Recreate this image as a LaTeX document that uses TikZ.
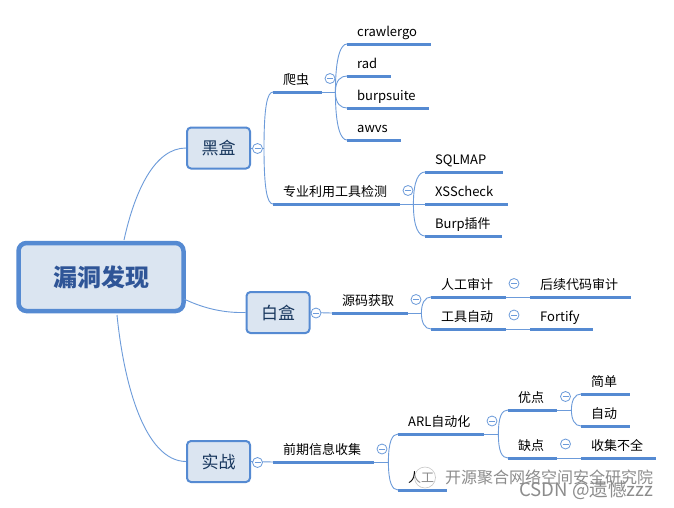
\documentclass[tikz,border=0pt]{standalone}
\usepackage{fontspec}
\setmainfont{Noto Sans CJK SC}
\usetikzlibrary{calc}
\definecolor{mmline}{HTML}{558AD2}
\definecolor{mmthin}{HTML}{6C9BDA}
\definecolor{mmfill}{HTML}{DBE5F1}
\definecolor{mmtext}{HTML}{17365D}
\definecolor{mmroot}{HTML}{2F5597}
\tikzset{
  x=1pt,y=-1pt,
  rootbox/.style={draw=mmline,line width=4.5pt,rounded corners=8pt,fill=mmfill,text=mmroot,
    font=\fontsize{24}{28}\selectfont\bfseries,minimum width=165pt,minimum height=68pt,inner sep=0pt},
  mainbox/.style={draw=mmline,line width=2pt,rounded corners=4pt,fill=mmfill,text=mmtext,
    font=\fontsize{17}{20}\selectfont,minimum width=63pt,minimum height=41pt,inner sep=0pt},
  topic/.style={anchor=south west,inner sep=0pt,minimum height=22pt,text height=10pt,text depth=3pt,
    font=\fontsize{13}{15}\selectfont,align=left},
  bar/.style={draw=mmline,line width=3pt},
  conn/.style={draw=mmthin,line width=0.9pt},
  fold/.style={circle,draw=mmthin,fill=white,line width=0.8pt,minimum size=10pt,inner sep=0pt,
    path picture={\draw[mmthin,line width=0.8pt] ($(path picture bounding box.center)+(-3,0)$) -- ($(path picture bounding box.center)+(3,0)$);}},
  mark1/.style={text=gray!90,inner sep=0pt}
}
% name, left, right, bottom y, text
\newcommand{\tpc}[5]{%
  \pgfmathsetmacro{\tpcw}{#3-#2}%
  \node[topic,text width=\tpcw pt] (#1) at (#2,#4) {\hspace*{10pt}#5};
  \draw[bar] (#1.south west) -- (#1.south east);}
\newcommand{\lowered}[2]{\raisebox{-#1pt}{#2}}
% fan: from coordinate #1, vertical handle #2, to node #3
\newcommand{\fan}[3]{\draw[conn] (#1) .. controls ($(#1)+(0,#2)$) and ($(#3.south west)+(-6,0)$) .. (#3.south west);}
\begin{document}
\begin{tikzpicture}
\useasboundingbox (0,0) rectangle (674,507);
\fill[white] (0,0) rectangle (674,507);

\node[rootbox] (root) at (101,277) {\lowered{2}{漏洞发现}};
\node[mainbox] (black) at (218.5,148) {\lowered{1.5}{黑盒}};
\node[mainbox] (white) at (278,312.5) {\lowered{1.5}{白盒}};
\node[mainbox] (real) at (218.5,461.5) {\lowered{1.5}{实战}};

\coordinate (r1) at (124,240);
\coordinate (r2) at (184,299);
\coordinate (r3) at (117,315);
\draw[conn] (r1) .. controls (135,190) and (155,148) .. (black.west);
\draw[conn] (r2) .. controls (205,309) and (225,313) .. (white.west);
\draw[conn] (r3) .. controls (124,385) and (145,461) .. (real.west);

% black box
\tpc{crawler}{273}{322}{92}{爬虫}
\tpc{tool}{273}{400}{204}{专业利用工具检测}
\tpc{crawlergo}{347}{431}{44}{crawlergo}
\tpc{rad}{347}{391}{76}{rad}
\tpc{burpsuite}{347}{429}{108}{burpsuite}
\tpc{awvs}{347}{401}{140}{awvs}
\tpc{sqlmap}{425}{503}{172}{SQLMAP}
\tpc{xss}{425}{508}{204}{XSScheck}
\tpc{burp}{425}{502}{236}{Burp插件}

\coordinate (bb) at ($(black.east)+(13,0)$);
\draw[conn] (black.east) -- (bb);
\fan{bb}{-40}{crawler}
\fan{bb}{40}{tool}
\coordinate (cb) at ($(crawler.south east)+(13,0)$);
\draw[conn] (crawler.south east) -- (cb);
\fan{cb}{-36}{crawlergo}
\fan{cb}{-12}{rad}
\fan{cb}{12}{burpsuite}
\fan{cb}{36}{awvs}
\coordinate (tb) at ($(tool.south east)+(13,0)$);
\draw[conn] (tool.south east) -- (xss.south west);
\fan{tb}{-24}{sqlmap}
\fan{tb}{24}{burp}

% white box
\tpc{source}{332}{408}{313}{源码获取}
\tpc{manual}{431}{506}{297}{人工审计}
\tpc{auto}{431}{506}{329}{工具自动}
\tpc{later}{530}{631}{297}{后续代码审计}
\tpc{fortify}{530}{593}{329}{Fortify}
\draw[conn] (white.east) -- (source.south west);
\coordinate (sb) at ($(source.south east)+(13,0)$);
\draw[conn] (source.south east) -- (sb);
\fan{sb}{-10}{manual}
\fan{sb}{10}{auto}
\draw[conn] (manual.south east) -- (later.south west);
\draw[conn] (auto.south east) -- (fortify.south west);

% practice
\tpc{info}{273}{374}{462}{前期信息收集}
\tpc{arl}{398}{484}{434}{ARL自动化}
\tpc{human}{398}{447}{490}{人工}
\tpc{good}{508}{557}{410}{优点}
\tpc{bad}{508}{557}{458}{缺点}
\tpc{simple}{581}{630}{394}{简单}
\tpc{autom}{581}{630}{426}{自动}
\tpc{lack}{581}{656}{458}{收集不全}
\draw[conn] (real.east) -- (info.south west);
\coordinate (ib) at ($(info.south east)+(14,0)$);
\draw[conn] (info.south east) -- (ib);
\fan{ib}{-20}{arl}
\fan{ib}{20}{human}
\coordinate (ab) at ($(arl.south east)+(14,0)$);
\draw[conn] (arl.south east) -- (ab);
\fan{ab}{-18}{good}
\fan{ab}{18}{bad}
\coordinate (gb) at ($(good.south east)+(14,0)$);
\draw[conn] (good.south east) -- (gb);
\fan{gb}{-10}{simple}
\fan{gb}{10}{autom}
\draw[conn] (bad.south east) -- (lack.south west);

% fold markers
\node[fold] (f1) at (257.5,148.5) {};
\node[fold] (f2) at (330,78.5) {};
\node[fold] (f3) at (408,190.5) {};
\node[fold] (f4) at (316,313) {};
\node[fold] (f5) at (416,299.5) {};
\node[fold] (f6) at (514,283.5) {};
\node[fold] (f7) at (514,315) {};
\node[fold] (f8) at (257.5,462.5) {};
\node[fold] (f9) at (382,449) {};
\node[fold] (f10) at (492,421) {};
\node[fold] (f11) at (565.5,396.5) {};
\node[fold] (f12) at (565.5,444) {};

% watermarks
\fill[white,opacity=0.55] (425,478) circle (11pt);
\draw[gray!45,line width=0.6pt] (425,477.5) circle (10.5pt);
\node[mark1,font=\fontsize{16}{18}\selectfont,anchor=west] (wm1) at (445,477) {开源聚合网络空间安全研究院};
\node[mark1,font=\fontsize{18.6}{20}\selectfont,anchor=west] (wm2) at (519,490) {CSDN @遗憾zzz};
\end{tikzpicture}
\end{document}
